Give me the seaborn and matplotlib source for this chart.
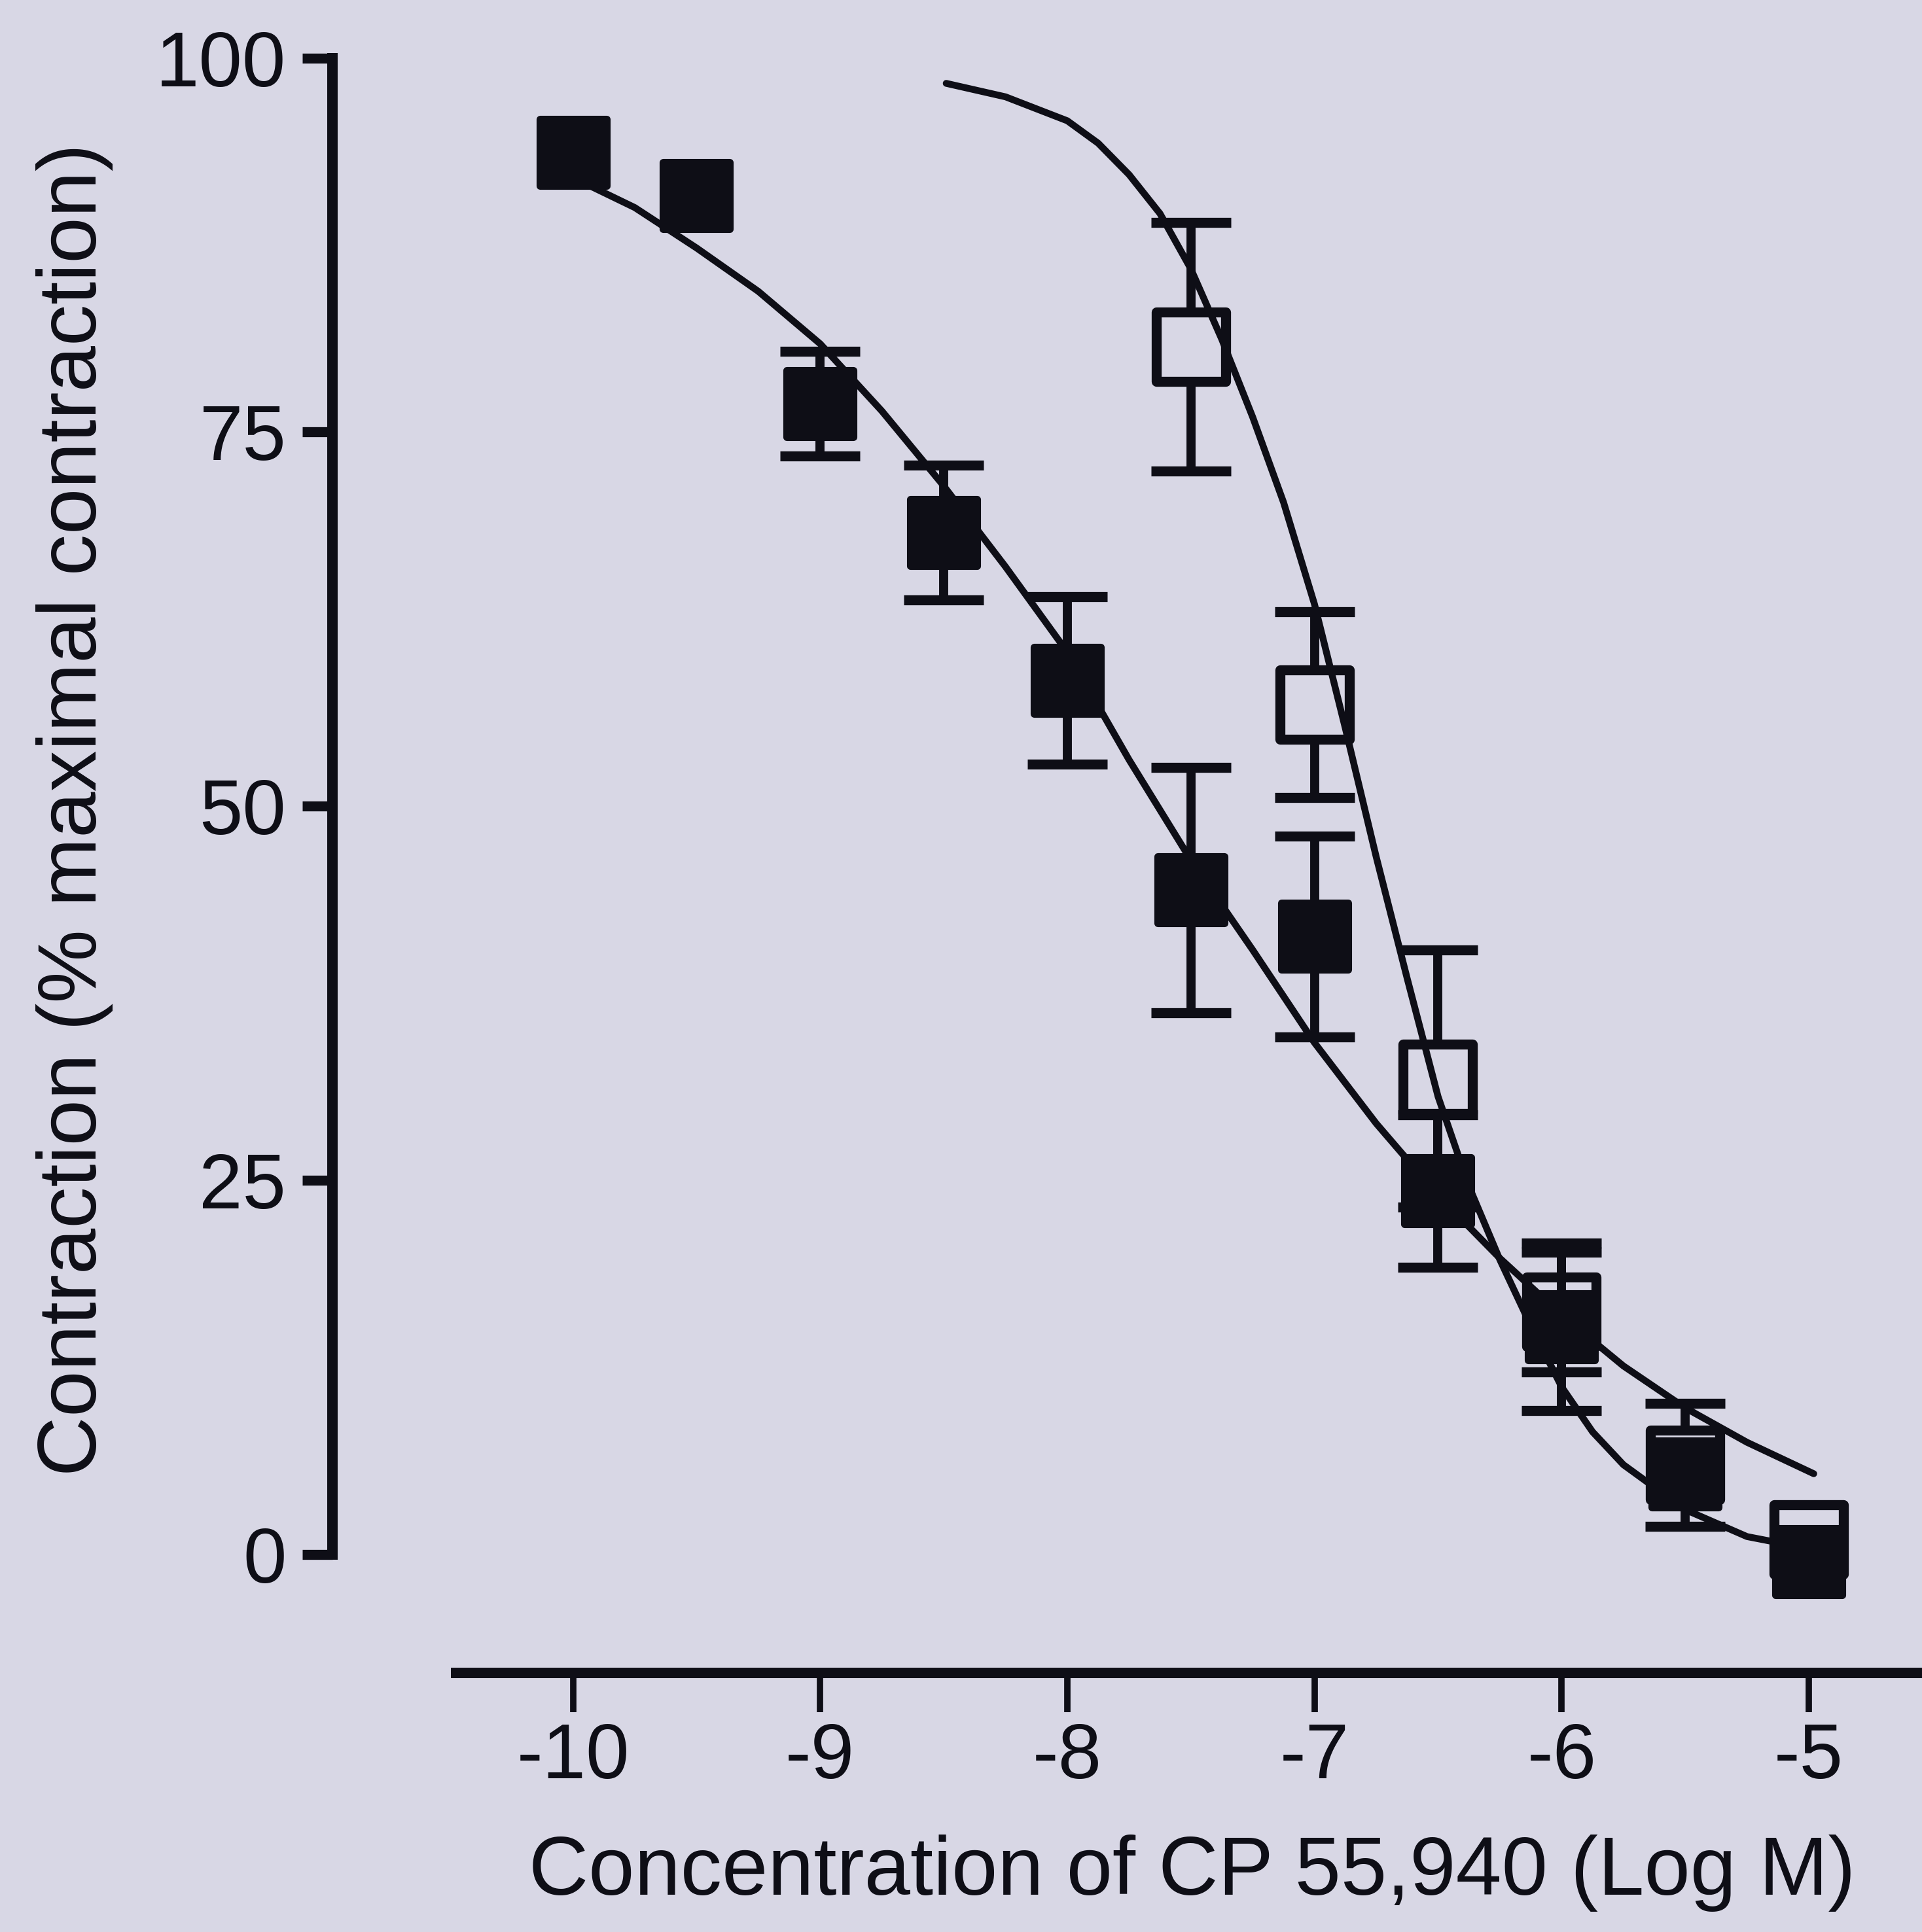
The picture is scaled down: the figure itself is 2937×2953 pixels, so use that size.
import numpy as np
import matplotlib
matplotlib.use("Agg")
import matplotlib.pyplot as plt
import seaborn as sns

# control (filled squares), log M CP 55,940 vs % maximal contraction
log_conc_filled = [-10, -9.5, -9, -8.5, -8, -7.5, -7, -6.5, -6, -5.5, -5]
mean_filled = [93.7, 90.8, 76.9, 68.3, 58.4, 44.4, 41.3, 24.3, 15.2, 5.4, -0.5]
sem_filled = [0, 0, 3.5, 4.5, 5.6, 8.2, 6.7, 5.1, 5.6, 0, 0]

# shifted curve (open squares)
log_conc_open = [-7.5, -7, -6.5, -6, -5.5, -5]
mean_open = [80.7, 56.8, 31.8, 16.2, 6.0, 1.0]
sem_open = [8.3, 6.2, 8.6, 4.0, 4.1, 0]

# fitted curves
fit_x_filled = [-10.0, -9.75, -9.5, -9.25, -9.0, -8.75, -8.5, -8.25, -8.0, -7.75,
                -7.5, -7.25, -7.0, -6.75, -6.5, -6.25, -6.0, -5.75, -5.5, -5.25, -4.98]
fit_y_filled = [92.0, 90.0, 87.3, 84.4, 80.9, 76.4, 71.4, 66.0, 60.3, 53.1,
                46.4, 40.4, 34.2, 28.8, 24.0, 19.8, 16.0, 12.6, 9.8, 7.5, 5.4]

fit_x_open = [-8.49, -8.25, -8.0, -7.875, -7.75, -7.625, -7.5, -7.375, -7.25, -7.125,
              -7.0, -6.875, -6.75, -6.625, -6.5, -6.375, -6.25, -6.125, -6.0, -5.875,
              -5.75, -5.5, -5.25, -5.0]
fit_y_open = [98.3, 97.4, 95.8, 94.3, 92.2, 89.6, 85.9, 81.2, 76.0, 70.3,
              63.5, 55.2, 46.6, 38.5, 30.6, 24.6, 19.7, 15.3, 11.2, 8.2,
              6.0, 3.0, 1.2, 0.4]

xticks = [-10, -9, -8, -7, -6, -5]
xtick_labels = ['-10', '-9', '-8', '-7', '-6', '-5']
yticks = [0, 25, 50, 75, 100]
ytick_labels = ['0', '25', '50', '75', '100']

bg = '#d8d7e5'
ink = '#0e0e16'

sns.set_style('ticks')
plt.rcParams['font.family'] = ['Liberation Sans', 'DejaVu Sans']

fig = plt.figure(figsize=(29.37, 29.53), dpi=100, facecolor=bg)
ax = fig.add_axes([0.173, 0.1341, 0.827, 0.8659])
ax.set_facecolor(bg)

# error bars (only where there is a visible sem)
xo, yo, eo = map(np.array, (log_conc_open, mean_open, sem_open))
m = eo > 0
ax.errorbar(xo[m], yo[m], yerr=eo[m], fmt='none', ecolor=ink,
            elinewidth=10, capsize=44, capthick=11, zorder=2)
sns.scatterplot(x=log_conc_open, y=mean_open, marker='s', s=76**2,
                color=bg, edgecolor=ink, linewidth=11, zorder=3, ax=ax, legend=False)

xf, yf, ef = map(np.array, (log_conc_filled, mean_filled, sem_filled))
m = ef > 0
ax.errorbar(xf[m], yf[m], yerr=ef[m], fmt='none', ecolor=ink,
            elinewidth=10, capsize=44, capthick=11, zorder=4)
sns.scatterplot(x=log_conc_filled, y=mean_filled, marker='s', s=73**2,
                color=ink, edgecolor=ink, linewidth=8, zorder=5, ax=ax, legend=False)

for fx, fy in ((fit_x_filled, fit_y_filled), (fit_x_open, fit_y_open)):
    sns.lineplot(x=fx, y=fy, color=ink, linewidth=7.5, estimator=None,
                 solid_joinstyle='round', solid_capstyle='round', zorder=6, ax=ax)

ax.set_xlim(-10.973, -4.542)
ax.set_ylim(-7.91, 103.87)

sns.despine(ax=ax)
ax.spines['left'].set_bounds(0, 100)
ax.spines['bottom'].set_bounds(-10.473, -4.542)
for s in ('left', 'bottom'):
    ax.spines[s].set_linewidth(11.5)
    ax.spines[s].set_color(ink)

ax.set_xticks(xticks)
ax.set_xticklabels(xtick_labels)
ax.set_yticks(yticks)
ax.set_yticklabels(ytick_labels)
ax.tick_params(axis='y', direction='out', length=33, width=11, pad=18,
               labelsize=86, color=ink, labelcolor=ink)
ax.tick_params(axis='x', direction='out', length=43, width=7, pad=11,
               labelsize=86, color=ink, labelcolor=ink)

ax.set_xlabel('Concentration of CP 55,940 (Log M)', fontsize=91, color=ink)
ax.xaxis.set_label_coords(0.6203, 0.0193, transform=fig.transFigure)
ax.xaxis.label.set_verticalalignment('baseline')

ax.set_ylabel('Contraction (% maximal contraction)', fontsize=91, color=ink)
ax.yaxis.set_label_coords(0.0500, 0.5808, transform=fig.transFigure)
ax.yaxis.label.set_verticalalignment('baseline')

fig.savefig('out.png', dpi=100, facecolor=bg)
